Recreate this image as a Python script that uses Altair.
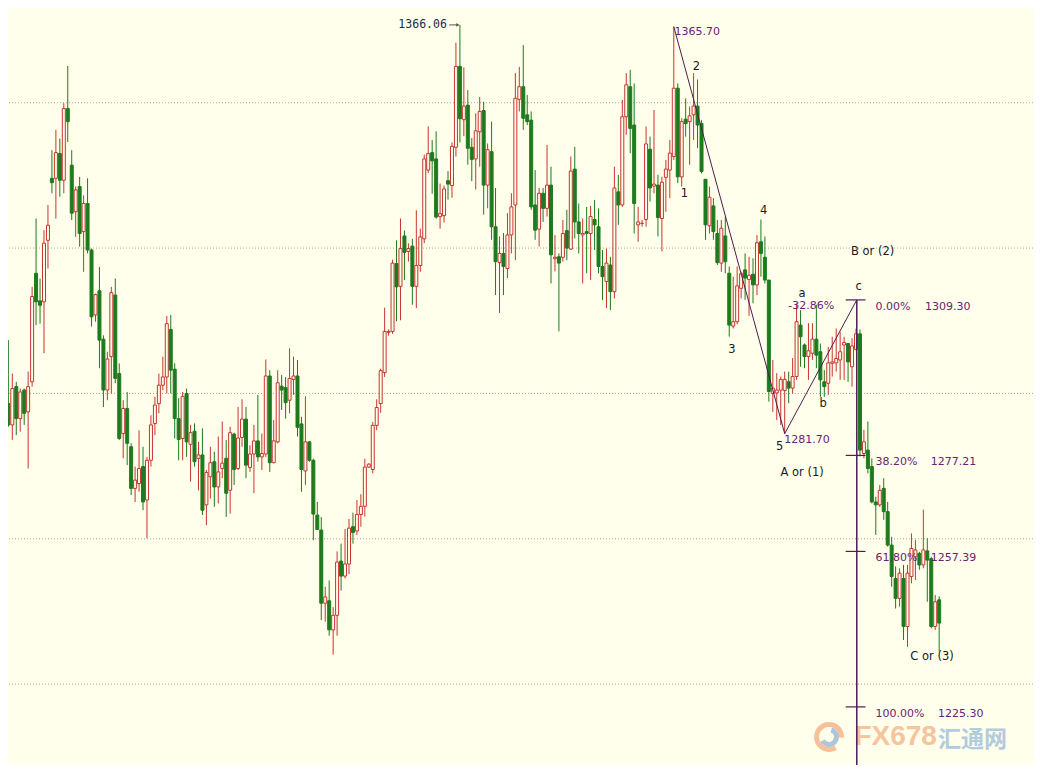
import altair as alt
import pandas as pd

# ---------------- candle data (price units) ----------------
OPEN = [
    1287.9, 1283.5, 1291.4, 1284.8, 1290.7, 1286.2, 1292.4, 1314.8, 1309.1, 1308.9,
    1321.6, 1334.4, 1334.4, 1339.5, 1334.0, 1348.8, 1337.1, 1327.5, 1332.7, 1323.4,
    1329.2, 1319.6, 1306.2, 1311.2, 1301.2, 1290.7, 1297.6, 1310.3, 1294.1, 1281.7,
    1286.9, 1279.0, 1270.4, 1271.4, 1274.9, 1268.0, 1276.2, 1283.8, 1287.9, 1291.7,
    1293.4, 1303.2, 1295.0, 1284.8, 1280.7, 1290.0, 1279.5, 1282.2, 1276.6, 1277.3,
    1267.0, 1272.8, 1275.9, 1270.7, 1274.5, 1276.6, 1270.0, 1281.6, 1274.5, 1280.9,
    1284.7, 1274.7, 1277.5, 1280.2, 1276.9, 1277.5, 1293.6, 1275.7, 1280.0, 1291.5,
    1291.2, 1288.6, 1292.9, 1293.6, 1283.7, 1274.0, 1280.0, 1276.2, 1264.9, 1261.8,
    1246.7, 1247.2, 1241.2, 1244.2, 1255.4, 1252.3, 1254.8, 1262.5, 1261.6, 1265.0,
    1266.7, 1274.8, 1274.3, 1283.4, 1287.9, 1294.3, 1302.6, 1302.8, 1316.8, 1312.1,
    1322.5, 1319.3, 1320.4, 1312.1, 1316.4, 1321.9, 1336.1, 1339.7, 1338.4, 1326.5,
    1326.7, 1333.9, 1332.9, 1340.8, 1357.5, 1346.5, 1349.5, 1340.8, 1338.4, 1344.0,
    1348.4, 1333.0, 1339.9, 1324.4, 1317.0, 1318.9, 1315.8, 1322.7, 1328.9, 1350.7,
    1353.3, 1347.5, 1346.4, 1328.9, 1323.9, 1331.3, 1328.2, 1333.0, 1317.8, 1318.2,
    1318.1, 1323.6, 1319.8, 1336.3, 1325.4, 1322.7, 1323.4, 1323.0, 1325.9, 1324.4,
    1316.2, 1313.1, 1316.5, 1311.0, 1331.6, 1328.9, 1347.1, 1353.3, 1345.4, 1324.8,
    1325.1, 1325.9, 1340.4, 1332.8, 1333.0, 1326.1, 1334.6, 1336.1, 1338.9, 1353.0,
    1334.7, 1346.6, 1346.1, 1347.5, 1349.3, 1345.7, 1334.2, 1324.6, 1328.7, 1323.0,
    1316.9, 1322.5, 1314.8, 1303.9, 1304.8, 1311.7, 1315.5, 1313.5, 1314.6, 1312.4,
    1321.3, 1318.1, 1313.4, 1290.0, 1290.1, 1290.7, 1290.6, 1292.4, 1291.1, 1293.5,
    1304.1, 1300.0, 1297.6, 1298.3, 1301.2, 1298.6, 1292.4, 1292.1, 1296.2, 1296.3,
    1296.9, 1300.0, 1300.3, 1295.5, 1299.1, 1302.3, 1277.6, 1278.3, 1274.9, 1267.6,
    1267.0, 1270.4, 1265.6, 1258.7, 1251.8, 1247.7, 1251.8, 1241.9, 1252.2, 1256.3,
    1257.0, 1254.6, 1257.5, 1255.9, 1241.9, 1247.4,
]
HIGH = [
    1301.0, 1294.1, 1292.4, 1291.0, 1291.0, 1294.5, 1312.0, 1326.1, 1313.7, 1323.7,
    1328.9, 1340.2, 1344.4, 1342.6, 1349.9, 1357.6, 1340.2, 1332.7, 1334.7, 1330.9,
    1334.4, 1319.9, 1310.6, 1316.1, 1302.0, 1298.6, 1312.0, 1313.7, 1296.2, 1288.6,
    1290.3, 1279.7, 1274.9, 1282.4, 1279.0, 1276.9, 1285.5, 1289.3, 1294.1, 1297.6,
    1306.0, 1306.2, 1296.2, 1289.0, 1290.3, 1291.0, 1283.5, 1283.8, 1280.0, 1282.8,
    1274.2, 1279.0, 1278.0, 1281.1, 1284.2, 1280.4, 1283.1, 1281.9, 1287.2, 1288.8,
    1287.2, 1279.3, 1283.5, 1289.7, 1281.7, 1297.0, 1294.8, 1284.5, 1294.8, 1293.8,
    1293.4, 1299.3, 1297.6, 1296.9, 1285.2, 1289.4, 1280.2, 1276.5, 1267.6, 1264.5,
    1250.1, 1251.4, 1245.9, 1257.4, 1259.0, 1262.0, 1264.1, 1265.4, 1268.0, 1269.2,
    1276.5, 1275.6, 1284.1, 1288.8, 1295.1, 1307.7, 1303.2, 1317.6, 1321.6, 1326.1,
    1323.6, 1321.0, 1321.9, 1327.8, 1324.0, 1339.3, 1345.1, 1342.3, 1344.1, 1333.3,
    1332.9, 1335.9, 1341.8, 1362.4, 1366.06, 1357.3, 1352.6, 1342.7, 1347.8, 1351.2,
    1350.2, 1341.6, 1346.1, 1332.4, 1322.4, 1323.1, 1327.2, 1331.3, 1356.1, 1357.4,
    1361.9, 1351.6, 1348.2, 1336.1, 1332.4, 1332.4, 1341.3, 1336.8, 1322.7, 1318.9,
    1325.8, 1327.9, 1338.9, 1340.9, 1329.2, 1326.1, 1328.5, 1328.7, 1329.9, 1328.2,
    1319.6, 1319.9, 1318.2, 1336.8, 1335.1, 1350.6, 1356.1, 1356.8, 1354.0, 1328.5,
    1325.8, 1345.1, 1343.0, 1348.5, 1335.1, 1334.7, 1338.2, 1342.3, 1365.70, 1354.0,
    1346.8, 1350.9, 1349.2, 1356.1, 1354.8, 1346.4, 1334.2, 1332.7, 1330.3, 1325.8,
    1325.8, 1326.5, 1316.2, 1314.1, 1316.2, 1315.1, 1318.9, 1318.2, 1317.9, 1322.7,
    1325.9, 1322.4, 1313.4, 1296.9, 1294.2, 1293.5, 1294.5, 1294.5, 1297.3, 1308.6,
    1307.2, 1300.3, 1304.5, 1304.5, 1308.3, 1300.3, 1294.8, 1299.6, 1301.7, 1303.4,
    1302.7, 1301.7, 1300.3, 1301.4, 1303.4, 1303.2, 1282.5, 1284.2, 1276.6, 1268.7,
    1271.1, 1272.5, 1267.6, 1260.4, 1254.3, 1253.9, 1254.6, 1254.6, 1261.1, 1259.8,
    1257.3, 1266.0, 1260.1, 1256.3, 1248.4, 1248.1,
]
LOW = [
    1283.1, 1280.4, 1281.4, 1282.1, 1283.5, 1274.5, 1291.4, 1304.1, 1304.4, 1298.3,
    1315.8, 1331.3, 1326.1, 1330.6, 1331.3, 1341.9, 1325.8, 1322.3, 1320.3, 1315.1,
    1318.9, 1303.8, 1304.8, 1295.2, 1287.2, 1288.6, 1290.0, 1292.1, 1280.4, 1276.6,
    1275.2, 1269.0, 1267.6, 1269.7, 1265.9, 1260.1, 1274.9, 1281.4, 1285.9, 1290.7,
    1290.0, 1290.0, 1280.7, 1276.2, 1276.2, 1276.9, 1271.8, 1274.9, 1270.0, 1264.9,
    1262.8, 1268.3, 1266.6, 1267.3, 1272.5, 1264.5, 1265.2, 1271.1, 1274.2, 1279.0,
    1272.5, 1273.8, 1269.4, 1275.9, 1274.2, 1276.9, 1273.8, 1275.6, 1279.7, 1286.6,
    1284.8, 1285.9, 1289.7, 1281.1, 1269.7, 1271.1, 1275.9, 1259.7, 1261.8, 1243.2,
    1242.9, 1240.0, 1236.1, 1240.0, 1249.3, 1251.8, 1252.7, 1259.0, 1260.8, 1262.5,
    1264.6, 1274.6, 1273.5, 1282.4, 1286.0, 1293.4, 1301.9, 1302.3, 1304.9, 1305.1,
    1313.4, 1317.2, 1308.3, 1307.6, 1315.1, 1321.0, 1335.5, 1331.2, 1326.1, 1324.0,
    1325.3, 1330.0, 1330.4, 1338.9, 1341.8, 1343.1, 1337.2, 1333.8, 1332.1, 1336.8,
    1326.9, 1328.2, 1321.7, 1310.3, 1306.6, 1310.3, 1313.8, 1318.9, 1317.5, 1348.2,
    1344.4, 1345.4, 1327.9, 1321.7, 1320.3, 1325.4, 1326.5, 1312.7, 1315.2, 1302.8,
    1317.2, 1317.5, 1319.6, 1322.0, 1318.9, 1312.7, 1314.8, 1313.4, 1319.6, 1314.8,
    1309.3, 1307.6, 1307.2, 1309.6, 1324.8, 1328.5, 1343.4, 1339.6, 1323.0, 1321.3,
    1324.4, 1324.4, 1329.6, 1331.3, 1322.4, 1319.3, 1327.5, 1330.3, 1338.2, 1333.4,
    1332.7, 1343.0, 1337.2, 1342.3, 1340.6, 1335.4, 1321.7, 1323.0, 1321.7, 1316.5,
    1315.1, 1314.8, 1301.7, 1303.4, 1304.3, 1309.6, 1309.3, 1306.0, 1308.6, 1310.3,
    1314.1, 1312.7, 1288.3, 1286.2, 1284.5, 1283.5, 1281.7, 1288.0, 1290.0, 1292.8,
    1295.5, 1295.2, 1292.8, 1296.9, 1295.2, 1289.3, 1289.3, 1289.7, 1293.5, 1294.5,
    1292.8, 1292.8, 1292.4, 1291.4, 1298.9, 1277.0, 1276.6, 1273.5, 1267.3, 1260.8,
    1266.6, 1263.9, 1258.4, 1250.1, 1245.6, 1246.0, 1239.1, 1237.7, 1250.8, 1251.5,
    1253.6, 1253.9, 1247.0, 1241.5, 1241.2, 1236.7,
]
CLOSE = [
    1283.5, 1291.0, 1284.8, 1290.3, 1285.9, 1291.4, 1310.0, 1308.9, 1308.2, 1321.0,
    1324.7, 1333.5, 1339.7, 1334.0, 1348.8, 1346.1, 1327.2, 1332.0, 1323.0, 1329.2,
    1319.6, 1305.8, 1310.4, 1301.0, 1290.7, 1297.1, 1310.8, 1293.1, 1280.7, 1286.9,
    1279.7, 1270.4, 1272.1, 1274.5, 1267.6, 1276.2, 1283.5, 1287.6, 1291.7, 1293.4,
    1304.4, 1294.8, 1284.8, 1280.5, 1289.4, 1280.0, 1281.9, 1275.9, 1277.3, 1265.9,
    1273.7, 1275.7, 1270.7, 1273.8, 1275.6, 1269.4, 1281.9, 1274.3, 1280.8, 1284.7,
    1275.2, 1277.5, 1280.2, 1276.9, 1277.6, 1293.6, 1275.7, 1280.2, 1292.2, 1290.7,
    1288.1, 1293.1, 1293.6, 1283.0, 1274.3, 1280.0, 1276.2, 1265.1, 1261.9, 1246.7,
    1248.0, 1241.2, 1244.2, 1255.2, 1252.3, 1254.8, 1262.2, 1261.3, 1265.0, 1266.7,
    1274.8, 1275.4, 1283.4, 1287.1, 1294.7, 1302.8, 1302.8, 1316.9, 1312.0, 1319.9,
    1319.1, 1319.9, 1312.1, 1316.4, 1322.3, 1338.4, 1339.5, 1338.0, 1326.4, 1327.1,
    1332.2, 1333.2, 1341.0, 1357.5, 1346.7, 1349.3, 1340.6, 1338.3, 1344.2, 1348.2,
    1333.0, 1340.3, 1324.4, 1317.2, 1318.9, 1316.2, 1322.7, 1328.5, 1350.9, 1353.3,
    1346.8, 1346.1, 1328.5, 1323.7, 1331.3, 1328.2, 1333.0, 1318.6, 1318.1, 1316.9,
    1323.0, 1320.0, 1335.9, 1325.4, 1323.0, 1323.0, 1323.0, 1326.5, 1324.8, 1316.2,
    1314.1, 1316.9, 1311.0, 1332.4, 1328.9, 1347.1, 1353.7, 1344.7, 1329.2, 1325.4,
    1325.1, 1341.5, 1332.4, 1333.2, 1326.3, 1333.6, 1336.3, 1339.6, 1353.0, 1334.7,
    1346.1, 1345.7, 1347.3, 1349.3, 1345.4, 1335.8, 1324.8, 1330.5, 1323.4, 1317.0,
    1324.1, 1317.2, 1304.1, 1304.8, 1312.2, 1314.7, 1313.8, 1314.4, 1312.4, 1321.1,
    1318.9, 1313.4, 1290.4, 1291.1, 1290.7, 1292.9, 1292.9, 1291.1, 1293.5, 1304.8,
    1301.7, 1297.6, 1298.8, 1301.2, 1297.9, 1292.8, 1291.4, 1296.3, 1296.5, 1297.2,
    1298.6, 1300.5, 1296.5, 1299.8, 1302.3, 1278.3, 1280.0, 1274.5, 1267.6, 1267.0,
    1270.0, 1265.6, 1258.7, 1252.2, 1247.7, 1252.9, 1241.9, 1252.9, 1258.0, 1257.7,
    1254.6, 1257.7, 1255.6, 1241.9, 1247.0, 1242.6,
]

GRID_LEVELS = [1350, 1320, 1290, 1260, 1230]

# Elliott wave swing points (bar index, price)
WAVE_BAR = [168, 196, 214.2]
WAVE_PRICE = [1365.70, 1281.70, 1309.30]

# Fibonacci projection levels
FIB_PCT = ["0.00%", "38.20%", "61.80%", "100.00%"]
FIB_PRICE = [1309.30, 1277.21, 1257.39, 1225.30]
FIB_TEXT = ["1309.30", "1277.21", "1257.39", "1225.30"]

# wave labels: text, bar, price
WAVE_LABELS = [
    ("2", 173.7, 1357.4), ("1", 170.7, 1331.2), ("4", 190.7, 1327.7),
    ("3", 182.7, 1299.0), ("5", 194.7, 1278.9), ("a", 200.4, 1310.6),
    ("b", 205.7, 1287.8), ("c", 214.7, 1311.9), ("B or (2)", 218.2, 1319.2),
    ("A or (1)", 200.4, 1273.6), ("C or (3)", 233.2, 1235.6),
]
PRICE_LABELS = [
    ("1365.70", 168.2, 1364.6), ("-32.86%", 196.9, 1308.0), ("1281.70", 195.9, 1280.4),
]

# ---------------- styling ----------------
BG = "#FFFFEC"
GREEN = "#1E7A1E"
RED = "#C8342E"
PURPLE_TXT = "#6B2170"
PURPLE_LN = "#4E1A57"
GRID = "#A8A8A8"
FONT = "DejaVu Sans"

xs = alt.Scale(domain=[1.175, 257.425], nice=False, zero=False)
ys = alt.Scale(domain=[1213.31, 1369.55], nice=False, zero=False)


def X(f):
    return alt.X(f, type="quantitative", scale=xs, axis=None)


def Y(f):
    return alt.Y(f, type="quantitative", scale=ys, axis=None)


df = pd.DataFrame({"k": list(range(len(OPEN))), "open": OPEN, "high": HIGH,
                   "low": LOW, "close": CLOSE})
df["dir"] = ["up" if c >= o else "down" for o, c in zip(OPEN, CLOSE)]

grid = alt.Chart(pd.DataFrame({"p": GRID_LEVELS})).mark_rule(
    color=GRID, strokeDash=[1, 2], strokeWidth=1
).encode(y=Y("p"))

wick = alt.Chart(df).mark_rule(strokeWidth=1, clip=True).encode(
    x=X("k"), y=Y("low"), y2="high",
    color=alt.Color("dir:N", scale=alt.Scale(domain=["up", "down"], range=[RED, GREEN]), legend=None),
)
body = alt.Chart(df).mark_bar(size=3, strokeWidth=1, clip=True).encode(
    x=X("k"), y=Y("open"), y2="close",
    fill=alt.Fill("dir:N", scale=alt.Scale(domain=["up", "down"], range=[BG, GREEN]), legend=None),
    stroke=alt.Stroke("dir:N", scale=alt.Scale(domain=["up", "down"], range=[RED, GREEN]), legend=None),
)

wave_df = pd.DataFrame({"k": WAVE_BAR, "p": WAVE_PRICE, "o": [0, 1, 2]})
wave = alt.Chart(wave_df).mark_line(color=PURPLE_LN, strokeWidth=1, clip=True).encode(
    x=X("k"), y=Y("p"), order="o:Q"
)

vline = alt.Chart(pd.DataFrame({"k": [WAVE_BAR[2]], "p": [WAVE_PRICE[2]], "p2": [ys.domain[0]]})).mark_rule(
    color=PURPLE_LN, strokeWidth=1.5, clip=True
).encode(x=X("k"), y=Y("p"), y2="p2")

fib_df = pd.DataFrame({"p": FIB_PRICE, "pct": FIB_PCT, "txt": FIB_TEXT,
                       "k1": [211.4] * 4, "k2": [216.4] * 4,
                       "kp": [218.9] * 4, "kt": [231.4, 232.9, 232.9, 234.7]})
fib_ticks = alt.Chart(fib_df).mark_rule(color=PURPLE_LN, strokeWidth=1.2).encode(
    x=X("k1"), x2="k2", y=Y("p")
)
fib_pct = alt.Chart(fib_df).mark_text(align="left", baseline="middle", dy=7, font=FONT,
                                      fontSize=11, color=PURPLE_TXT).encode(
    x=X("kp"), y=Y("p"), text="pct:N")
fib_txt = alt.Chart(fib_df).mark_text(align="left", baseline="middle", dy=7, font=FONT,
                                      fontSize=11, color=PURPLE_TXT).encode(
    x=X("kt"), y=Y("p"), text="txt:N")

wl_df = pd.DataFrame(WAVE_LABELS, columns=["t", "k", "p"])
wave_lbl = alt.Chart(wl_df).mark_text(align="center", baseline="middle", font=FONT,
                                      fontSize=11.5, color="#1A1A1A").encode(
    x=X("k"), y=Y("p"), text="t:N")

pl_df = pd.DataFrame(PRICE_LABELS, columns=["t", "k", "p"])
price_lbl = alt.Chart(pl_df).mark_text(align="left", baseline="middle", font=FONT,
                                       fontSize=11, color=PURPLE_TXT).encode(
    x=X("k"), y=Y("p"), text="t:N")

# high marker "1366.06 ->"
hi_df = pd.DataFrame({"t": ["1366.06"], "k": [110.7], "p": [1366.06], "k1": [111.3], "k2": [113.5]})
hi_txt = alt.Chart(hi_df).mark_text(align="right", baseline="middle", font="DejaVu Sans Mono",
                                    fontSize=11.5, color="#1C2A48").encode(
    x=X("k"), y=Y("p"), text="t:N")
hi_line = alt.Chart(hi_df).mark_rule(color="#555555", strokeWidth=1).encode(
    x=X("k1"), x2="k2", y=Y("p"))
hi_head = alt.Chart(hi_df).mark_point(shape="triangle-right", size=14, filled=True,
                                      color="#555555", opacity=1).encode(x=X("k2"), y=Y("p"))

# watermark
wm_df = pd.DataFrame({"k": [207.2], "p": [1219.1], "kt": [213.6], "kc": [234.7]})
logo_o = alt.Chart(wm_df).mark_arc(radius=15, radius2=10, theta=2.6, theta2=7.9,
                                   color="#F4B58A", opacity=0.85).encode(x=X("k"), y=Y("p"))
logo_b = alt.Chart(wm_df).mark_arc(radius=10, radius2=5, theta=0.3, theta2=4.2,
                                   color="#9FBCD6", opacity=0.85).encode(x=X("k"), y=Y("p"))
wm_fx = alt.Chart(wm_df.assign(t="FX678")).mark_text(
    align="left", baseline="middle", font="Liberation Sans", fontSize=28, fontWeight="bold",
    color="#F6BE96", opacity=0.9).encode(x=X("kt"), y=Y("p"), text="t:N")
wm_cn = alt.Chart(wm_df.assign(t="汇通网")).mark_text(
    align="left", baseline="middle", font="Noto Sans CJK SC", fontSize=23, fontWeight="bold",
    color="#A9C6DE", opacity=0.9, dy=3).encode(x=X("kc"), y=Y("p"), text="t:N")

chart = alt.layer(
    grid, logo_o, logo_b, wm_fx, wm_cn, wick, body, wave, vline, fib_ticks,
    fib_pct, fib_txt, wave_lbl, price_lbl, hi_line, hi_head, hi_txt,
).properties(
    width=1025, height=757, padding=0, background=BG,
    autosize=alt.AutoSizeParams(type="none"),
).configure_view(stroke=None)

chart.save("out.html", embed_options={"renderer": "svg", "actions": False})
